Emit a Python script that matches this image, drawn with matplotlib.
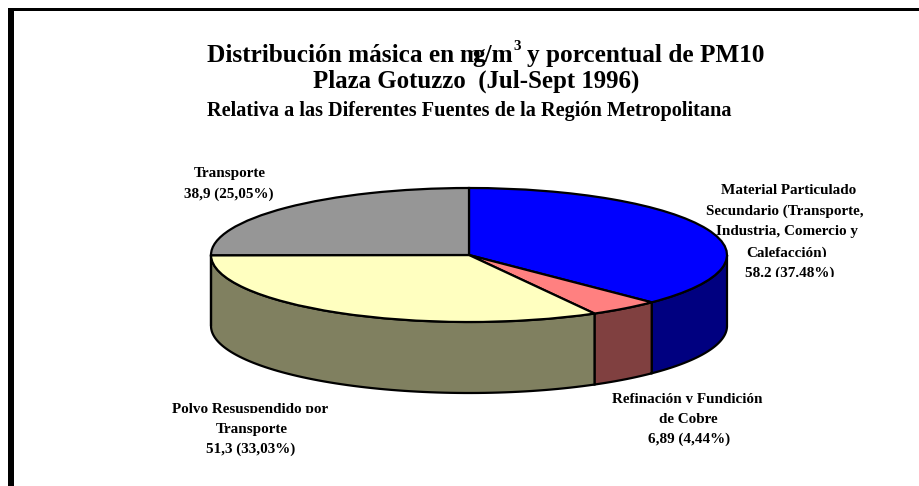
import numpy as np
import matplotlib
matplotlib.use('Agg')
import matplotlib.pyplot as plt
from matplotlib.transforms import Bbox

plt.rcParams['font.family'] = 'Liberation Serif'
plt.rcParams['font.weight'] = 'bold'

# data, clockwise from 12 o'clock
fuentes = ['Material Particulado', 'Refinación', 'Polvo', 'Transporte']
valores = [58.2, 6.89, 51.3, 38.9]
col_top = ['#0000FF', '#FF8080', '#FFFFC0', '#969696']
col_side = ['#000080', '#804040', '#808060', '#4B4B4B']

W, H = 919, 486
fig = plt.figure(figsize=(W / 100, H / 100), dpi=100)

# background axes in pixels for the frame and the text
bg = fig.add_axes([0, 0, 1, 1])
bg.set_xlim(0, W); bg.set_ylim(H, 0); bg.axis('off')
bg.plot([8, W], [9.5, 9.5], color='black', lw=2.16, solid_capstyle='butt')
bg.plot([11, 11], [8, H], color='black', lw=4.32, solid_capstyle='butt')

# pie axes, unit circle stretched to the ellipse of the top face
cx, cy, rx, ry, depth = 469, 255, 258, 67, 71
ax = fig.add_axes([(cx - rx) / W, 1 - (cy + ry) / H, 2 * rx / W, 2 * ry / H])
ax.pie(valores, startangle=90, counterclock=False, radius=1, colors=col_top,
       wedgeprops=dict(edgecolor='black', linewidth=1.6), frame=False)
ax.set_aspect('auto')
ax.set_xlim(-1, 1); ax.set_ylim(-1, 1)
ax.axis('off')

# side wall, only the front half shows
d = depth / ry
frac = np.cumsum([0] + valores) / sum(valores) * 2 * np.pi
for i in range(len(valores)):
    a0, a1 = frac[i], frac[i + 1]
    a0, a1 = max(a0, np.pi / 2), min(a1, 3 * np.pi / 2)
    if a1 <= a0:
        continue
    t = np.linspace(a0, a1, 80)
    x, y = np.sin(t), np.cos(t)
    ax.fill(np.r_[x, x[::-1]], np.r_[y, y[::-1] - d], facecolor=col_side[i],
            edgecolor='black', linewidth=1.6, clip_on=False, zorder=0.5)

# title
fs = 18.2
bg.text(207, 62, 'Distribución másica en', fontsize=fs, va='baseline', ha='left')
bg.text(459, 62, 'm', fontsize=fs, va='baseline', ha='left')
bg.text(472, 62, 'g/m', fontsize=fs, va='baseline', ha='left')
bg.text(513, 50, '3', fontsize=11, va='baseline', ha='left')
bg.text(527, 62, 'y porcentual de PM10', fontsize=fs, va='baseline', ha='left')
bg.text(476, 88, 'Plaza Gotuzzo  (Jul-Sept 1996)', fontsize=17.9, va='baseline', ha='center')
bg.text(469.5, 116, 'Relativa a las Diferentes Fuentes de la Región Metropolitana',
        fontsize=14.6, va='baseline', ha='center')


def etiqueta(x, y, s, cortar=False):
    # some lines lose their descenders in the original, cut at the baseline
    t = bg.text(x, y, s, fontsize=10.9, ha='center', va='baseline', zorder=5)
    if cortar:
        yb = H - y
        t.set_clip_box(Bbox([[0, yb], [W, H]]))
        t.set_clip_on(True)


etiqueta(230, 177, 'Transporte')
etiqueta(229, 198, '38,9 (25,05%)')
etiqueta(789, 194, 'Material Particulado')
etiqueta(785, 215, 'Secundario (Transporte,')
etiqueta(787, 235, 'Industria, Comercio y')
etiqueta(787, 257, 'Calefacción)', True)
etiqueta(790, 277, '58.2 (37.48%)', True)
etiqueta(687, 403, 'Refinación y Fundición', True)
etiqueta(688, 423, 'de Cobre')
etiqueta(689, 443, '6,89 (4,44%)')
etiqueta(250, 413, 'Polvo Resuspendido por', True)
etiqueta(252, 433, 'Transporte')
etiqueta(251, 453, '51,3 (33,03%)')

fig.savefig('out.png', dpi=100)
